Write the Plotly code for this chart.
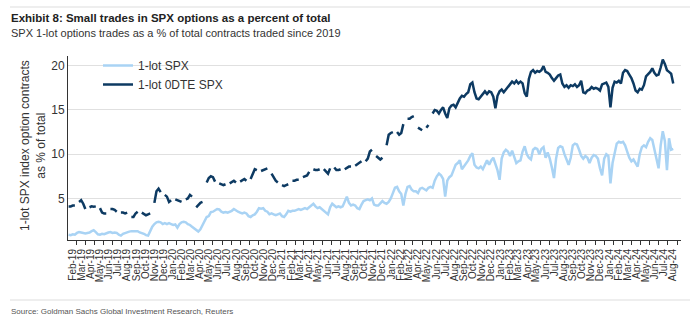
import pandas as pd
import plotly.graph_objects as go

# ---------------- data (weekly) ----------------
week_start = "2019-01-04"

one_lot_spx = [
    0.9, 0.85, 0.95, 0.9, 1.1, 1.2, 1.15, 1.1, 1.05, 1.1,
    1.15, 1.3, 1.4, 1.2, 0.95, 0.9, 1.0, 0.95, 1.1, 1.15,
    1.2, 1.1, 1.15, 1.1, 0.9, 0.8, 1.0, 1.1, 1.15, 1.25,
    1.3, 1.3, 1.25, 1.3, 1.15, 1.1, 1.0, 0.85, 0.8, 1.3,
    1.8, 2.1, 2.3, 2.35, 2.3, 2.1, 2.2, 2.1, 2.2, 2.1,
    2.0, 2.05, 1.7, 2.1, 2.3, 2.35, 2.3, 2.1, 2.0, 1.8,
    1.6, 1.5, 1.25, 1.5, 2.0, 2.5, 2.9, 3.0, 3.45, 3.5,
    3.7, 3.8, 3.75, 3.5, 3.4, 3.45, 3.4, 3.5, 3.6, 3.8,
    3.6, 3.5, 3.4, 3.3, 3.4, 3.3, 3.0, 2.9, 3.1, 3.2,
    3.5, 3.9, 3.85, 3.9, 3.6, 3.5, 3.2, 3.3, 3.2, 3.1,
    3.2, 3.3, 3.0, 2.9, 3.2, 3.6, 3.5, 3.6, 3.6, 3.7,
    3.8, 3.7, 3.8, 3.9, 3.8, 4.0, 4.2, 4.4, 4.1, 3.9,
    4.0, 3.8, 3.6, 3.3, 3.2, 4.0, 4.4, 4.2, 4.0, 4.1,
    4.0, 4.1, 4.6, 5.2, 4.5, 4.2, 4.3, 4.2, 3.9, 3.8,
    4.3, 4.7, 4.8, 4.9, 4.8, 5.0, 4.3, 4.2, 4.2, 4.5,
    4.7, 4.5, 4.4, 4.6, 5.0, 5.6, 6.2, 6.3, 5.8, 5.5,
    4.2, 5.5, 6.3, 6.4, 6.0, 5.8, 5.8, 5.6, 6.1, 6.2,
    6.0, 5.9, 6.2, 6.3, 6.2, 7.0, 7.5, 7.8, 7.6, 7.2,
    5.2, 7.0, 7.4, 7.6, 8.2, 8.8, 9.0, 9.3, 8.3, 8.6,
    8.9, 9.3, 9.8, 10.1, 8.8, 8.5, 8.4, 8.6, 8.3, 8.9,
    9.3, 8.8, 9.3, 9.6, 9.0, 8.2, 7.1, 9.5, 10.2, 10.5,
    10.3, 9.8, 10.4, 9.6, 9.0, 9.2, 9.3, 10.3, 10.9, 10.0,
    9.6, 9.4, 10.5, 10.7, 10.6, 10.0, 10.6, 10.8, 9.6, 10.2,
    9.5, 8.5, 7.3, 9.5, 10.7, 10.9, 10.8, 10.0, 9.4, 8.8,
    9.6, 11.0, 11.2, 11.1, 10.5, 9.8, 9.5, 9.8, 9.6, 9.0,
    9.6, 9.9, 9.8, 9.5, 8.4, 7.6, 9.5, 10.0, 9.8, 6.7,
    9.0, 10.0, 11.2, 11.4, 11.3, 11.4, 11.0, 10.3, 9.6, 9.2,
    9.4, 9.0, 8.6, 10.0, 10.8, 11.0, 10.8, 11.4, 11.8, 11.6,
    10.4, 9.5, 8.4, 11.0, 12.6, 11.5, 8.2, 11.8, 10.5, 10.6,
]

one_lot_0dte_spx = [
    4.1, 4.1, 4.2, 4.2, 4.3, 4.6, 4.8, 4.4, 3.8, 3.75,
    4.0, 4.1, 4.05, 4.1, 4.0, 3.9, 3.4, 3.3, 3.3, 3.6,
    3.8, 3.8, 3.7, 3.5, 3.5, 3.4, 3.4, 3.3, 3.4, 3.1,
    2.9, 2.9, 3.3, 3.5, 3.5, 3.4, 3.2, 3.1, 3.2, 3.3,
    3.2, 4.5, 5.8, 6.1, 5.7, 5.6, 5.4, 5.2, 4.6, 4.8,
    5.0, 4.9, 4.8, 4.7, 4.6, 4.8, 4.9, 5.0, 5.4, 5.2,
    4.1, 4.0, 4.3, 4.5, 4.6, 5.6, 6.8, 7.3, 7.5, 7.4,
    6.9, 6.7, 6.7, 6.6, 6.5, 6.6, 6.6, 6.7, 6.9, 7.0,
    6.8, 6.7, 6.9, 7.1, 7.2, 7.0, 7.0, 7.2, 7.8, 8.3,
    8.2, 8.2, 8.1, 8.2, 8.3, 8.4, 8.2, 7.8, 7.4, 7.0,
    6.8, 6.8, 6.5, 6.4, 6.5, 6.6, 6.8, 7.0, 7.0, 7.1,
    7.1, 7.3, 7.4, 7.5, 7.6, 8.0, 8.3, 8.3, 8.2, 8.2,
    8.3, 8.4, 8.3, 8.0, 7.8, 8.4, 9.0, 8.5, 8.2, 8.2,
    8.3, 8.1, 8.3, 8.5, 8.6, 8.6, 8.7, 8.7, 8.9, 9.1,
    9.2, 9.3, 9.2, 9.5, 10.3, 10.5, 10.3, 9.8, 9.6, 9.4,
    9.6, 9.4, 11.0, 12.2, 12.4, 12.5, 12.6, 12.5, 12.2, 12.4,
    13.4, 13.6, 14.0, 14.0, 14.2, 14.3, 14.3, 13.0, 12.8, 12.7,
    12.9, 13.0, 13.3, 13.5, 14.6, 15.0, 14.9, 14.6, 15.0, 15.3,
    14.6, 14.1, 15.2, 15.5, 15.6, 15.3, 15.8, 16.3, 16.6, 16.5,
    16.8, 17.0, 17.9, 18.1, 17.0, 16.3, 16.2, 16.5, 16.9, 17.1,
    16.8, 17.1, 17.0, 16.5, 15.2, 16.6, 17.1, 17.3, 17.0, 17.3,
    17.6, 18.0, 18.2, 18.0, 18.3, 18.0, 18.2, 18.0, 16.9, 16.5,
    18.5, 19.3, 19.5, 19.2, 19.4, 19.3, 19.5, 19.95, 19.3, 19.2,
    19.0, 18.6, 18.3, 18.6, 18.9, 19.0, 18.0, 17.6, 17.8, 17.5,
    17.8, 17.7, 17.9, 17.6, 17.8, 18.3, 17.0, 16.9, 17.2, 17.3,
    17.6, 17.4, 17.5, 17.4, 17.2, 17.9, 18.0, 18.1, 17.6, 15.3,
    17.5, 18.2, 18.1, 18.3, 18.0, 19.2, 19.5, 19.4, 19.0, 18.6,
    18.0, 17.2, 17.0, 17.4, 17.3, 17.8, 18.8, 19.0, 19.3, 19.7,
    19.2, 18.9, 19.0, 19.8, 20.7, 20.2, 19.5, 19.3, 19.1, 18.0,
]

# weeks with no 0DTE observation (gaps in the dark line)
dte_missing_weeks = [4, 9, 14, 19, 24, 29, 34, 40, 45, 50, 55, 60, 65, 71, 76,
                     81, 86, 91, 96, 101, 106, 111, 116, 121, 126, 131, 136,
                     141, 146, 151, 156, 161, 166, 170, 173]

y_ticks = [5, 10, 15, 20]
month_ticks = pd.date_range("2019-02-01", "2024-08-01", freq="MS")

# ---------------- figure ----------------
dates = pd.date_range(week_start, periods=len(one_lot_spx), freq="7D")
missing = set(dte_missing_weeks)
dte = [None if i in missing else v for i, v in enumerate(one_lot_0dte_spx)]

L, T, W, H = 68, 56, 613, 184
FIG_W, FIG_H = 700, 325


def px(xp):
    return (xp - L) / W


def py(yp):
    return (T + H - yp) / H


FONT = "Liberation Sans, Arial, sans-serif"
NARROW = "Liberation Sans Narrow, Arial Narrow, Liberation Sans, sans-serif"

fig = go.Figure()
fig.add_trace(go.Scatter(
    x=dates, y=one_lot_spx, mode="lines", name="1-lot SPX",
    line=dict(color="#A9D3F4", width=2.5)))
fig.add_trace(go.Scatter(
    x=dates, y=dte, mode="lines", name="1-lot 0DTE SPX", connectgaps=False,
    line=dict(color="#0D3A62", width=2.5)))

fig.update_layout(
    width=FIG_W, height=FIG_H,
    margin=dict(l=L, r=FIG_W - L - W, t=T, b=FIG_H - T - H, pad=0),
    paper_bgcolor="white", plot_bgcolor="white",
    font=dict(family=FONT, size=12, color="#333333"),
    showlegend=True,
    legend=dict(x=px(98), y=py(51), xanchor="left", yanchor="top",
                bgcolor="rgba(0,0,0,0)", font=dict(size=12, color="#333333"),
                tracegroupgap=0),
)

fig.update_xaxes(
    type="date", range=["2019-01-02", "2024-08-14"],
    tickmode="array", tickvals=month_ticks, tickformat="%b-%y",
    tickangle=-90, tickfont=dict(size=10, color="#333333"),
    ticks="outside", ticklen=4, tickcolor="#333333", tickwidth=1,
    ticklabelshift=-4,
    showline=True, linecolor="#333333", linewidth=1,
    showgrid=False, zeroline=False,
)
fig.update_yaxes(
    range=[0.3, 21.1], tickmode="array", tickvals=y_ticks,
    tickfont=dict(size=12, color="#333333"),
    ticks="", showline=True, linecolor="#333333", linewidth=1,
    showgrid=True, gridcolor="#e0e0e0", gridwidth=1, zeroline=False,
)

fig.add_annotation(
    text="1-lot SPX index option contracts<br>as % of total",
    xref="paper", yref="paper", x=px(33), y=py(146), xanchor="center",
    yanchor="middle", textangle=-90, showarrow=False,
    font=dict(family=FONT, size=12, color="#333333"))

fig.add_annotation(
    text="<b>Exhibit 8: Small trades in SPX options as a percent of total</b>",
    xref="paper", yref="paper", x=px(9), y=py(18), xanchor="left", yanchor="middle",
    showarrow=False, font=dict(family=NARROW, size=11.5, color="#222222"))
fig.add_annotation(
    text="SPX 1-lot options trades as a % of total contracts traded since 2019",
    xref="paper", yref="paper", x=px(9), y=py(33), xanchor="left", yanchor="middle",
    showarrow=False, font=dict(family=NARROW, size=11, color="#333333"))
fig.add_annotation(
    text="Source: Goldman Sachs Global Investment Research, Reuters",
    xref="paper", yref="paper", x=px(9), y=py(311), xanchor="left", yanchor="middle",
    showarrow=False, font=dict(family=NARROW, size=8, color="#555555"))

for yline in (7, 300):
    fig.add_shape(type="line", xref="paper", yref="paper",
                  x0=px(10), x1=px(690), y0=py(yline), y1=py(yline),
                  line=dict(color="#dddddd", width=1))

fig.write_html("out.html")
